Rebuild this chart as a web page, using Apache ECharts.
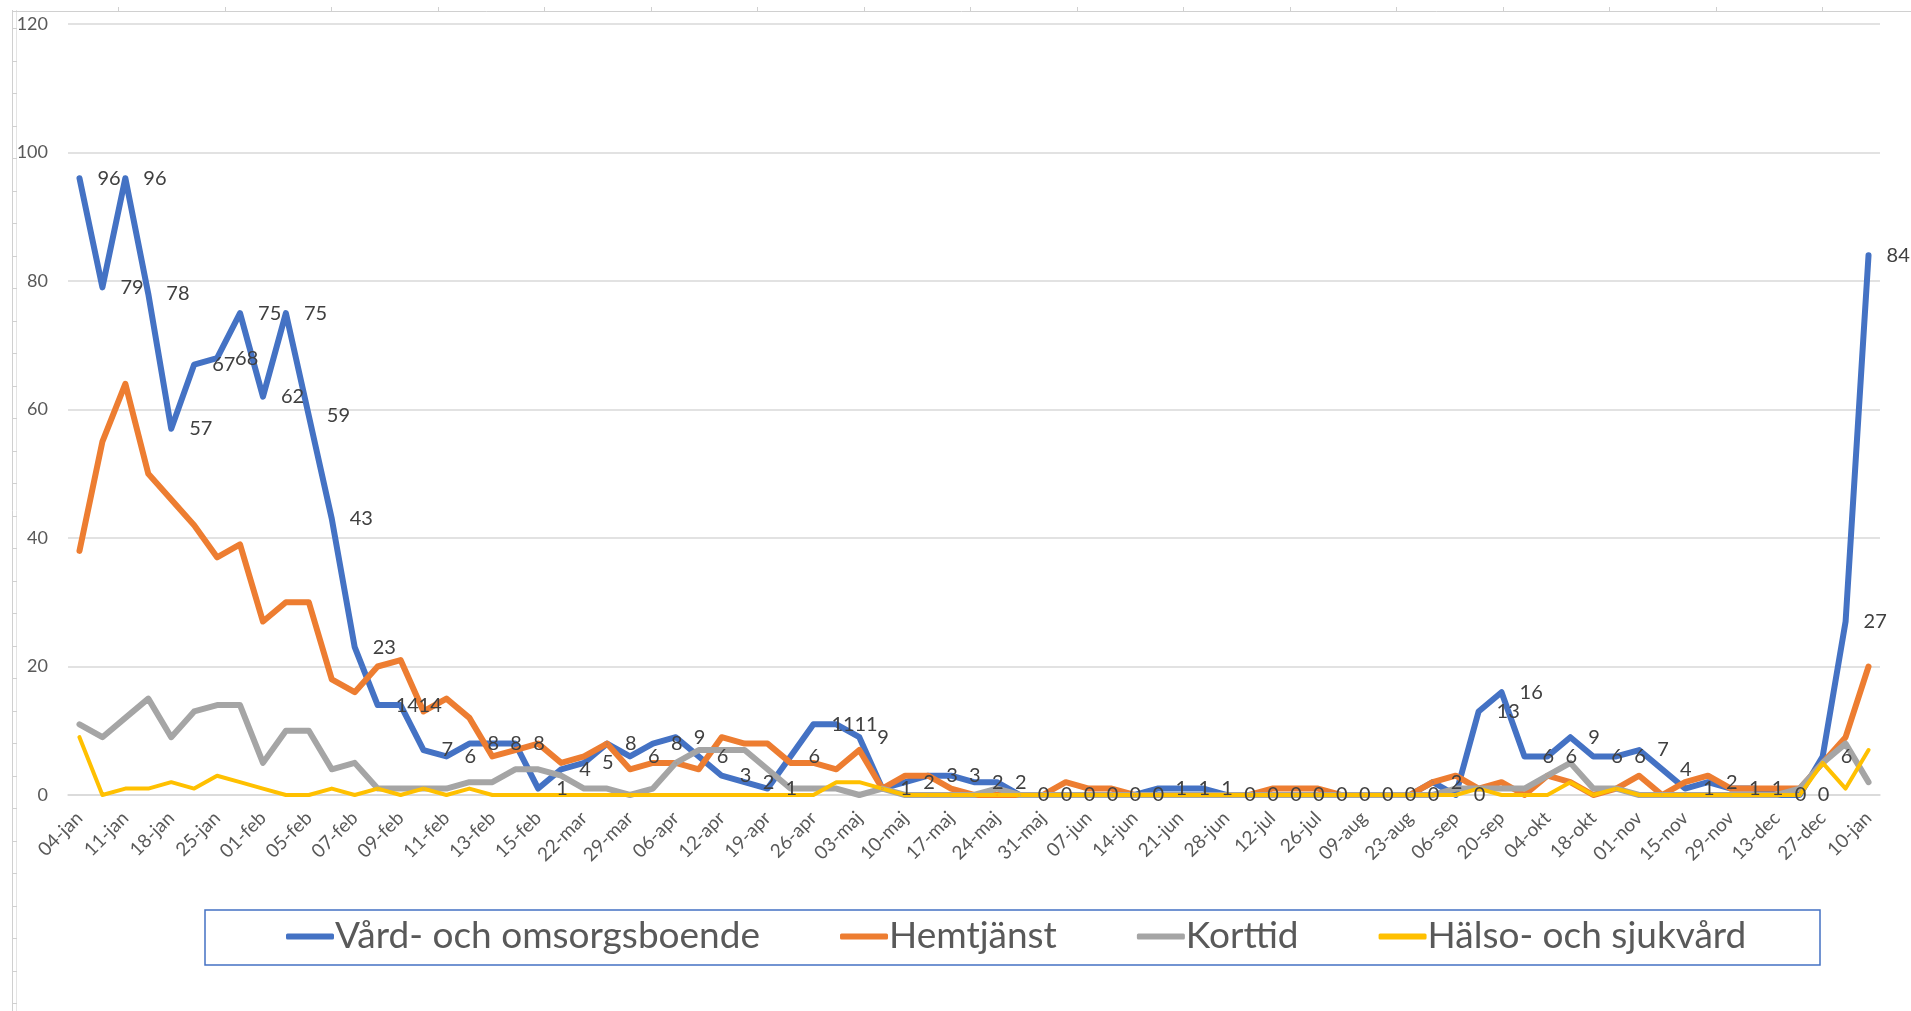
<!DOCTYPE html>
<html>
<head>
<meta charset="utf-8">
<title>Vård och omsorg</title>
<script src="https://cdn.jsdelivr.net/npm/echarts@6/dist/echarts.min.js"></script>
<style>
  html, body { margin: 0; padding: 0; background: #fff; }
  #main { width: 1911px; height: 1011px; }
</style>
</head>
<body>
<div id="main"></div>
<script>
// kategorier, bara varannan visas som etikett
const dates = [
  '04-jan', '07-jan', '11-jan', '14-jan', '18-jan', '21-jan', '25-jan', '28-jan', '01-feb', '03-feb',
  '05-feb', '06-feb', '07-feb', '08-feb', '09-feb', '10-feb', '11-feb', '12-feb', '13-feb', '14-feb',
  '15-feb', '15-mar', '22-mar', '25-mar', '29-mar', '01-apr', '06-apr', '09-apr', '12-apr', '15-apr',
  '19-apr', '22-apr', '26-apr', '29-apr', '03-maj', '06-maj', '10-maj', '13-maj', '17-maj', '20-maj',
  '24-maj', '27-maj', '31-maj', '03-jun', '07-jun', '10-jun', '14-jun', '17-jun', '21-jun', '24-jun',
  '28-jun', '05-jul', '12-jul', '19-jul', '26-jul', '02-aug', '09-aug', '16-aug', '23-aug', '30-aug',
  '06-sep', '13-sep', '20-sep', '27-sep', '04-okt', '11-okt', '18-okt', '25-okt', '01-nov', '08-nov',
  '15-nov', '22-nov', '29-nov', '06-dec', '13-dec', '20-dec', '27-dec', '03-jan', '10-jan'
];

const vardOmsorg = [
  96, 79, 96, 78, 57, 67, 68, 75, 62, 75,
  59, 43, 23, 14, 14, 7, 6, 8, 8, 8,
  1, 4, 5, 8, 6, 8, 9, 6, 3, 2,
  1, 6, 11, 11, 9, 1, 2, 3, 3, 2,
  2, 0, 0, 0, 0, 0, 0, 1, 1, 1,
  0, 0, 0, 0, 0, 0, 0, 0, 0, 2,
  0, 13, 16, 6, 6, 9, 6, 6, 7, 4,
  1, 2, 1, 1, 0, 0, 6, 27, 84
];

const hemtjanst = [
  38, 55, 64, 50, 46, 42, 37, 39, 27, 30,
  30, 18, 16, 20, 21, 13, 15, 12, 6, 7,
  8, 5, 6, 8, 4, 5, 5, 4, 9, 8,
  8, 5, 5, 4, 7, 1, 3, 3, 1, 0,
  0, 0, 0, 2, 1, 1, 0, 0, 0, 0,
  0, 0, 1, 1, 1, 0, 0, 0, 0, 2,
  3, 1, 2, 0, 3, 2, 0, 1, 3, 0,
  2, 3, 1, 1, 1, 1, 5, 9, 20
];

const korttid = [
  11, 9, 12, 15, 9, 13, 14, 14, 5, 10,
  10, 4, 5, 1, 1, 1, 1, 2, 2, 4,
  4, 3, 1, 1, 0, 1, 5, 7, 7, 7,
  4, 1, 1, 1, 0, 1, 0, 0, 0, 0,
  1, 0, 0, 0, 0, 0, 0, 0, 0, 0,
  0, 0, 0, 0, 0, 0, 0, 0, 0, 0,
  1, 1, 1, 1, 3, 5, 1, 1, 0, 0,
  0, 0, 0, 0, 0, 1, 5, 8, 2
];

const halsoSjukvard = [
  9, 0, 1, 1, 2, 1, 3, 2, 1, 0,
  0, 1, 0, 1, 0, 1, 0, 1, 0, 0,
  0, 0, 0, 0, 0, 0, 0, 0, 0, 0,
  0, 0, 0, 2, 2, 1, 0, 0, 0, 0,
  0, 0, 0, 0, 0, 0, 0, 0, 0, 0,
  0, 0, 0, 0, 0, 0, 0, 0, 0, 0,
  0, 1, 0, 0, 0, 2, 0, 1, 0, 0,
  0, 0, 0, 0, 0, 0, 5, 1, 7
];

const yTicks = [0, 20, 40, 60, 80, 100, 120];

const textFont = 'Lato';

// kalkylbladets rutnät som syns runt diagrammet
let sheetLines = [
  { type: 'line', shape: { x1: 12.5, y1: 10, x2: 12.5, y2: 1011 }, style: { stroke: '#D0D0D0', lineWidth: 1 } },
  { type: 'line', shape: { x1: 16.5, y1: 10, x2: 16.5, y2: 1011 }, style: { stroke: '#E4E4E4', lineWidth: 1 } },
  { type: 'line', shape: { x1: 12, y1: 11.5, x2: 1911, y2: 11.5 }, style: { stroke: '#D0D0D0', lineWidth: 1 } }
];
for (let y = 28; y < 1011; y += 32.5) {
  sheetLines.push({ type: 'line', shape: { x1: 12, y1: Math.round(y) + 0.5, x2: 17, y2: Math.round(y) + 0.5 }, style: { stroke: '#D0D0D0', lineWidth: 1 } });
}
for (let x = 118; x < 1911; x += 106.5) {
  sheetLines.push({ type: 'line', shape: { x1: Math.round(x) + 0.5, y1: 7, x2: Math.round(x) + 0.5, y2: 12 }, style: { stroke: '#D0D0D0', lineWidth: 1 } });
}

let chart = echarts.init(document.getElementById('main'));

function lineSeries(name, data, color, width, withLabel) {
  return {
    name: name,
    type: 'line',
    data: data,
    symbol: 'circle',
    symbolSize: 2,
    showSymbol: true,
    itemStyle: { color: color },
    lineStyle: { color: color, width: width, cap: 'round', join: 'round' },
    label: {
      show: withLabel,
      position: 'right',
      distance: 17,
      color: '#404040',
      fontFamily: textFont,
      fontSize: 20
    },
    emphasis: { disabled: true },
    animation: false
  };
}

let option = {
  backgroundColor: '#fff',
  animation: false,
  grid: { left: 68, right: 31, top: 24, bottom: 216 },
  legend: {
    left: 286,
    top: 918,
    padding: 0,
    itemGap: 80,
    itemWidth: 48,
    itemHeight: 6,
    icon: 'roundRect',
    textStyle: { fontFamily: textFont, fontSize: 37, color: '#595959', padding: [0, 0, 0, -4] },
    data: ['Vård- och omsorgsboende', 'Hemtjänst', 'Korttid', 'Hälso- och sjukvård']
  },
  xAxis: {
    type: 'category',
    data: dates,
    boundaryGap: true,
    axisLine: { lineStyle: { color: '#D9D9D9', width: 1.5 } },
    axisTick: { show: false },
    axisLabel: {
      interval: 1,
      rotate: 45,
      margin: 20,
      color: '#595959',
      fontFamily: textFont,
      fontSize: 19
    }
  },
  yAxis: {
    type: 'value',
    min: yTicks[0],
    max: yTicks[yTicks.length - 1],
    interval: yTicks[1] - yTicks[0],
    axisLine: { show: false },
    axisTick: { show: false },
    splitLine: { lineStyle: { color: '#D9D9D9', width: 1.5 } },
    axisLabel: { margin: 20, color: '#595959', fontFamily: textFont, fontSize: 18 }
  },
  graphic: sheetLines.concat([
    {
      type: 'rect',
      shape: { x: 205, y: 910, width: 1615, height: 55 },
      style: { fill: 'none', stroke: '#4472C4', lineWidth: 1.5 },
      z: 0
    }
  ]),
  series: [
    lineSeries('Vård- och omsorgsboende', vardOmsorg, '#4472C4', 6, true),
    lineSeries('Hemtjänst', hemtjanst, '#ED7D31', 6, false),
    lineSeries('Korttid', korttid, '#A5A5A5', 6, false),
    lineSeries('Hälso- och sjukvård', halsoSjukvard, '#FFC000', 4, false)
  ]
};

chart.setOption(option);
</script>
</body>
</html>
